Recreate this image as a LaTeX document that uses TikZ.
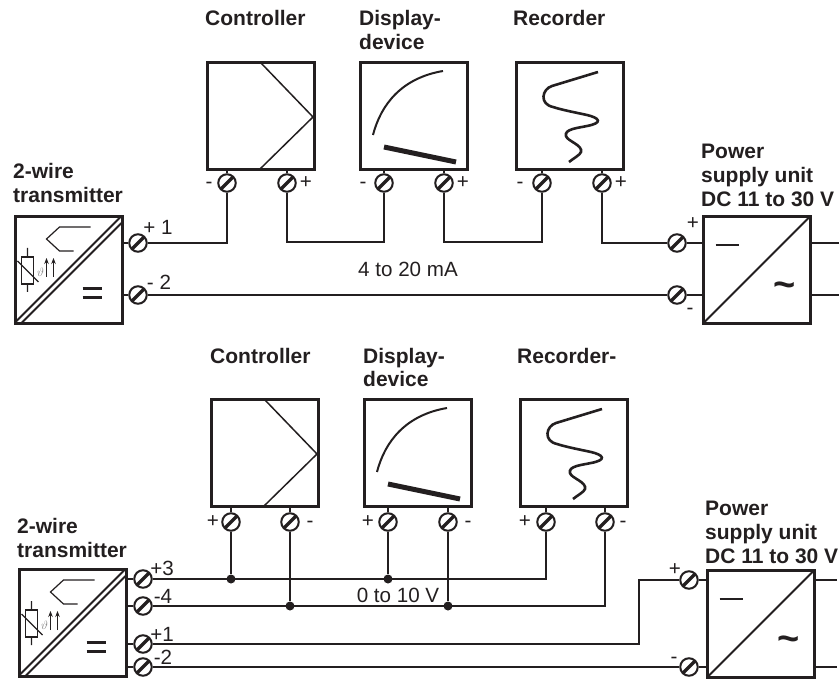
\documentclass[tikz,border=0pt]{standalone}
\usepackage{amsmath}
\usepackage{fontspec}
\setmainfont{Liberation Sans}
\usetikzlibrary{%
	calc,%
	arrows.meta%
}
\definecolor{ink}{HTML}{231F20}
\tikzset{
	box/.style={draw=ink,line width=3pt,minimum size=107pt,inner sep=0pt,outer sep=0pt},
	wire/.style={draw=ink,line width=1.7pt},
	terminal/.style={circle,draw=ink,line width=2pt,minimum size=17.5pt,inner sep=0pt,
		path picture={\draw[ink,line width=3.2pt] (path picture bounding box.south west) -- (path picture bounding box.north east);}},
	junction/.style={circle,fill=ink,minimum size=9pt,inner sep=0pt},
	heading/.style={font=\fontsize{21}{24}\selectfont\bfseries,text=ink,align=left,inner sep=0pt,anchor=base west},
	small/.style={font=\fontsize{20.6}{24}\selectfont,text=ink,inner sep=0pt,anchor=base},
	controllersym/.pic={
		\draw[ink,line width=1.5pt] (0,-53) -- (52,1) -- (-2,54);
	},
	displaysym/.pic={
		\draw[ink,line width=2pt] (-41,19) .. controls (-33,-12) and (-12,-38) .. (29,-45);
		\draw[ink,line width=5pt] (-30,31) -- (42,46);
	},
	recordersym/.pic={
		\draw[ink,line width=2.6pt] (28,-44) -- (-18,-30) .. controls (-28,-27) and (-31,-12) .. (-17,-9)
			.. controls (-8,-6) and (8,-3) .. (17,-1) .. controls (30,2) and (33,7) .. (17,10)
			.. controls (8,12) and (-6,13) .. (-4,20) .. controls (-3,25) and (13,29) .. (11,36)
			.. controls (10,39) and (4,42) .. (-1,46);
	},
	transmittersym/.pic={
		\draw[ink,line width=1.8pt] (-53,52) -- (52,-53) (-47,53) -- (53,-47);
		\draw[ink,line width=1.2pt] (22,-43) -- (-9,-43) -- (-22,-31) -- (-9,-19) -- (5,-19);
		\draw[ink,line width=1.4pt] (-47,-13) rectangle (-35,14);
		\draw[ink,line width=1.4pt] (-41,-22) -- (-41,-13) (-41,14) -- (-41,22) (-51,-9) -- (-30,12);
		\node[gray,font=\fontsize{12}{12}\selectfont,inner sep=0pt] (-theta) at (-28,2) {\(\vartheta\)};
		\draw[ink,line width=.7pt,-{Stealth[length=6pt,width=4.5pt]}] (-22,7) -- (-22,-12);
		\draw[ink,line width=.7pt,-{Stealth[length=6pt,width=4.5pt]}] (-15,7) -- (-15,-12);
		\draw[ink,line width=3pt] (14,19) -- (33,19) (14,28) -- (33,28);
	},
	supplysym/.pic={
		\draw[ink,line width=1.8pt] (-53,53) -- (53,-53);
		\draw[ink,line width=2pt] (-41,-25) -- (-18,-25);
		\node[text=ink,font=\fontsize{38}{38}\selectfont\bfseries,inner sep=0pt] (-tilde) at (28,20) {\char`\~};
	}
}

\begin{document}
\begin{tikzpicture}[x=1pt,y=-1pt]
	\useasboundingbox (0,0) rectangle (839,679);
	% upper circuit
	\node[box] (ctrl) at (261,116) {};
	\node[box] (disp) at (414,116) {};
	\node[box] (rec) at (570,116) {};
	\node[box] (tx) at (68.5,270) {};
	\node[box] (ps) at (756.5,270) {};
	\pic at (ctrl) {controllersym};
	\pic at (disp) {displaysym};
	\pic at (rec) {recordersym};
	\pic (t) at (tx) {transmittersym};
	\pic (s) at (ps) {supplysym};
	\node[terminal] (cm) at (227,183) {};
	\node[terminal] (cp) at (287,183) {};
	\node[terminal] (dm) at (384,183) {};
	\node[terminal] (dp) at (444,183) {};
	\node[terminal] (rm) at (542,183) {};
	\node[terminal] (rp) at (602,183) {};
	\node[terminal] (t1) at (138,243) {};
	\node[terminal] (t2) at (138,295) {};
	\node[terminal] (s1) at (677,243) {};
	\node[terminal] (s2) at (677,295) {};
	\coordinate (o1) at (839,243);
	\coordinate (o2) at (839,295);
	\coordinate (a) at (287,242);
	\coordinate (b) at (444,242);
	\draw[wire] (cm) -- (cm |- ctrl.south)
		(cp) -- (cp |- ctrl.south)
		(dm) -- (dm |- disp.south)
		(dp) -- (dp |- disp.south)
		(rm) -- (rm |- rec.south)
		(rp) -- (rp |- rec.south)
		(t1) -- (t1 -| tx.east)
		(t2) -- (t2 -| tx.east)
		(s1) -- (s1 -| ps.west)
		(s2) -- (s2 -| ps.west)
		(ps.east |- o1) -- (o1)
		(ps.east |- o2) -- (o2)
		(t1) -| (cm)
		(cp) |- (a) -| (dm)
		(dp) |- (b) -| (rm)
		(rp) |- (s1)
		(t2) -- (s2);
	\node[heading] (lc) at (205,26) {Controller};
	\node[heading] (ld) at (359,50) {Display-\\device};
	\node[heading] (lr) at (513,26) {Recorder};
	\node[heading] (lt) at (13,203) {2-wire\\transmitter};
	\node[heading] (lp) at (701,207) {Power\\supply unit\\DC 11 to 30 V};
	\node[small] (n1) at (209,189) {-};
	\node[small] (n2) at (306,189) {+};
	\node[small] (n3) at (363,189) {-};
	\node[small] (n4) at (463,189) {+};
	\node[small] (n5) at (520,189) {-};
	\node[small] (n6) at (621,189) {+};
	\node[small] (n7) at (158,235) {+ 1};
	\node[small] (n8) at (159,290) {- 2};
	\node[small] (n9) at (693,230) {+};
	\node[small] (n10) at (690,315) {-};
	\node[small] (range) at (408,277) {4 to 20 mA};
	% lower circuit
	\node[box] (ctrl') at (265,453) {};
	\node[box] (disp') at (418,453) {};
	\node[box] (rec') at (574,453) {};
	\node[box] (tx') at (72.5,623) {};
	\node[box] (ps') at (760.5,624) {};
	\pic at (ctrl') {controllersym};
	\pic at (disp') {displaysym};
	\pic at (rec') {recordersym};
	\pic (t') at (tx') {transmittersym};
	\pic (s') at (ps') {supplysym};
	\node[terminal] (cp') at (231,522) {};
	\node[terminal] (cm') at (290,522) {};
	\node[terminal] (dp') at (388,522) {};
	\node[terminal] (dm') at (448,522) {};
	\node[terminal] (rp') at (546,522) {};
	\node[terminal] (rm') at (605,522) {};
	\node[terminal] (t3') at (143,579) {};
	\node[terminal] (t4') at (143,606) {};
	\node[terminal] (t1') at (143,644) {};
	\node[terminal] (t2') at (143,667) {};
	\node[terminal] (s1') at (689,580) {};
	\node[terminal] (s2') at (689,667) {};
	\node[junction] (j1) at (231,579) {};
	\node[junction] (j2) at (388,579) {};
	\node[junction] (j3) at (290,606) {};
	\node[junction] (j4) at (448,606) {};
	\coordinate (o1') at (837,580);
	\coordinate (o2') at (837,667);
	\coordinate (k) at (639,644);
	\draw[wire] (cp') -- (cp' |- ctrl'.south)
		(cm') -- (cm' |- ctrl'.south)
		(dp') -- (dp' |- disp'.south)
		(dm') -- (dm' |- disp'.south)
		(rp') -- (rp' |- rec'.south)
		(rm') -- (rm' |- rec'.south)
		(t3') -- (t3' -| tx'.east)
		(t4') -- (t4' -| tx'.east)
		(t1') -- (t1' -| tx'.east)
		(t2') -- (t2' -| tx'.east)
		(s1') -- (s1' -| ps'.west)
		(s2') -- (s2' -| ps'.west)
		(ps'.east |- o1') -- (o1')
		(ps'.east |- o2') -- (o2')
		(cp') -- (j1)
		(dp') -- (j2)
		(cm') -- (j3)
		(dm') -- (j4)
		(t3') -| (rp')
		(t4') -| (rm')
		(t1') -- (k) |- (s1')
		(t2') -- (s2');
	\node[heading] (lc') at (210,363) {Controller};
	\node[heading] (ld') at (363,387) {Display-\\device};
	\node[heading] (lr') at (517,363) {Recorder-};
	\node[heading] (lt') at (17,557) {2-wire\\transmitter};
	\node[heading] (lp') at (705,563) {Power\\supply unit\\DC 11 to 30 V};
	\node[small] (m1) at (213,527) {+};
	\node[small] (m2) at (310,527) {-};
	\node[small] (m3) at (368,527) {+};
	\node[small] (m4) at (468,527) {-};
	\node[small] (m5) at (525,527) {+};
	\node[small] (m6) at (623,527) {-};
	\node[small] (m7) at (162,575) {+3};
	\node[small] (m8) at (163,603) {-4};
	\node[small] (m9) at (162,641) {+1};
	\node[small] (m10) at (163,664) {-2};
	\node[small] (m11) at (675,575) {+};
	\node[small] (m12) at (674,663) {-};
	\node[small] (range') at (398,602) {0 to 10 V};
\end{tikzpicture}
\end{document}
